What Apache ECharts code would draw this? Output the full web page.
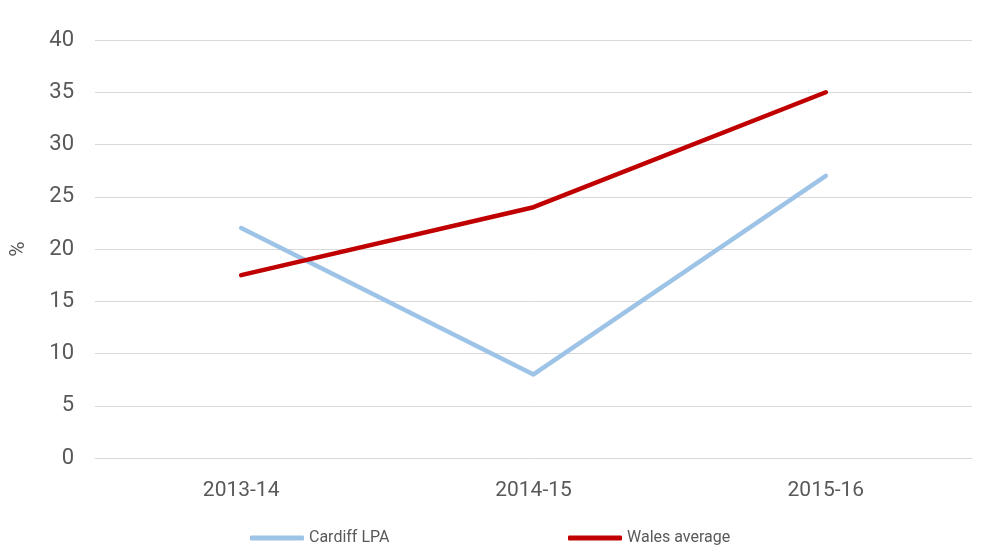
<!DOCTYPE html>
<html>
<head>
<meta charset="utf-8">
<script src="https://cdn.jsdelivr.net/npm/echarts@6/dist/echarts.min.js"></script>
<style>
  html, body { margin: 0; padding: 0; background: #fff; }
  #chart { width: 985px; height: 554px; }
</style>
</head>
<body>
<div id="chart"></div>
<script>
const categories = ['2013-14', '2014-15', '2015-16'];
const cardiffLpa = [22, 8, 27];
const walesAverage = [17.5, 24, 35];

const textColor = '#595959';
const gridColor = '#D9D9D9';
const font = 'Roboto, "Noto Sans", sans-serif';

const chart = echarts.init(document.getElementById('chart'), null, { renderer: 'canvas' });

const legendText = { color: textColor, fontSize: 16, fontFamily: font };

chart.setOption({
  backgroundColor: '#fff',
  animation: false,
  grid: { left: 90, right: 13, top: 40, bottom: 96, containLabel: false },
  legend: [
    {
      data: ['Cardiff LPA'],
      left: 250,
      top: 530,
      padding: 0,
      icon: 'roundRect',
      itemWidth: 54,
      itemHeight: 5,
      itemGap: 5,
      textStyle: legendText
    },
    {
      data: ['Wales average'],
      left: 568,
      top: 530,
      padding: 0,
      icon: 'roundRect',
      itemWidth: 54,
      itemHeight: 5,
      itemGap: 5,
      textStyle: legendText
    }
  ],
  xAxis: {
    type: 'category',
    data: categories,
    boundaryGap: true,
    axisLine: { lineStyle: { color: gridColor, width: 1 } },
    axisTick: { show: false },
    axisLabel: { color: textColor, fontSize: 21, fontFamily: font, margin: 22 }
  },
  yAxis: {
    type: 'value',
    min: 0,
    max: 40,
    interval: 5,
    name: '%',
    nameLocation: 'middle',
    nameRotate: 90,
    nameGap: 66,
    nameTextStyle: { color: textColor, fontSize: 21, fontFamily: font },
    axisLine: { show: false },
    axisTick: { show: false },
    splitLine: { lineStyle: { color: gridColor, width: 1 } },
    axisLabel: { color: textColor, fontSize: 22, fontFamily: font, margin: 21 }
  },
  series: [
    {
      name: 'Cardiff LPA',
      type: 'line',
      data: cardiffLpa,
      symbol: 'none',
      color: '#9DC3E6',
      lineStyle: { width: 4.5, color: '#9DC3E6', cap: 'round', join: 'round' }
    },
    {
      name: 'Wales average',
      type: 'line',
      data: walesAverage,
      symbol: 'none',
      color: '#C00000',
      lineStyle: { width: 4.5, color: '#C00000', cap: 'round', join: 'round' }
    }
  ]
});
</script>
</body>
</html>
